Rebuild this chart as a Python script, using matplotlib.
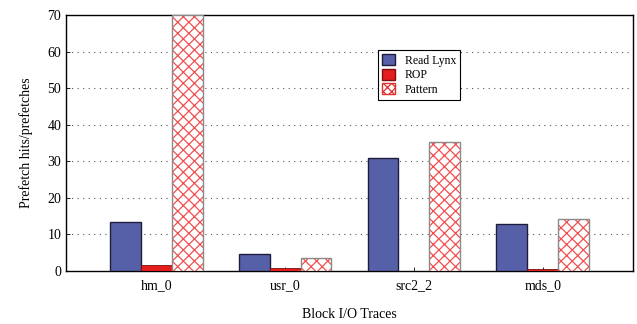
import numpy as np
import matplotlib
matplotlib.use("Agg")
import matplotlib.pyplot as plt
from matplotlib.patches import Patch

traces = ['hm_0', 'usr_0', 'src2_2', 'mds_0']
read_lynx = [13.4, 4.6, 30.9, 12.9]
rop = [1.6, 0.8, 0.1, 0.5]
pattern = [70.0, 3.6, 35.3, 14.2]

plt.rcParams['font.family'] = ['Liberation Serif', 'DejaVu Serif']
plt.rcParams['font.size'] = 10
plt.rcParams['hatch.linewidth'] = 0.9

fig = plt.figure(figsize=(6.37, 3.24), dpi=100)
ax = fig.add_axes([66/637, 1 - 271/324, (633-66)/637, (271-15)/324])

x = np.arange(len(traces))
w = 0.24

ax.bar(x - w, read_lynx, w, color='#5660a8', edgecolor='#1e1e3c', linewidth=1.0, zorder=3)
ax.bar(x, rop, w, color='#e51c1c', edgecolor='#7a1010', linewidth=0.6, zorder=3)
ax.bar(x + w, pattern, w, color='white', edgecolor='#f25050', hatch='xxx', linewidth=0, zorder=3)
ax.bar(x + w, pattern, w, fill=False, edgecolor='#8a8a8a', linewidth=1.0, zorder=4)

ax.set_xlim(-0.7, 3.7)
ax.set_ylim(0, 70)
ax.set_yticks(range(0, 71, 10))
ax.set_xticks(x)
ax.set_xticklabels(traces)
ax.tick_params(direction='in', length=3, width=0.6)
ax.tick_params(axis='x', pad=6)
for y in range(10, 71, 10):
    ax.axhline(y, color='#555555', linestyle=(0, (1, 4)), linewidth=0.8, zorder=1)
for s in ax.spines.values():
    s.set_linewidth(1.0)

ax.set_ylabel('Prefetch hits/prefetches', labelpad=10)
ax.set_xlabel('Block I/O Traces', labelpad=11)

handles = [
    Patch(facecolor='#5660a8', edgecolor='#1e1e3c', label='Read Lynx'),
    Patch(facecolor='#e51c1c', edgecolor='#7a1010', label='ROP'),
    Patch(facecolor='white', edgecolor='#e03030', hatch='xxxx', label='Pattern'),
]
leg = ax.legend(handles=handles, loc='upper left', bbox_to_anchor=((378-66)/567, (271-50)/256),
                borderaxespad=0, frameon=True, fancybox=False, edgecolor='black', framealpha=1,
                handlelength=1.1, handleheight=1.1, handletextpad=0.8, borderpad=0.35,
                labelspacing=0.15, fontsize=8.5)
leg.get_frame().set_linewidth(0.8)

fig.savefig('out.png', dpi=100)
